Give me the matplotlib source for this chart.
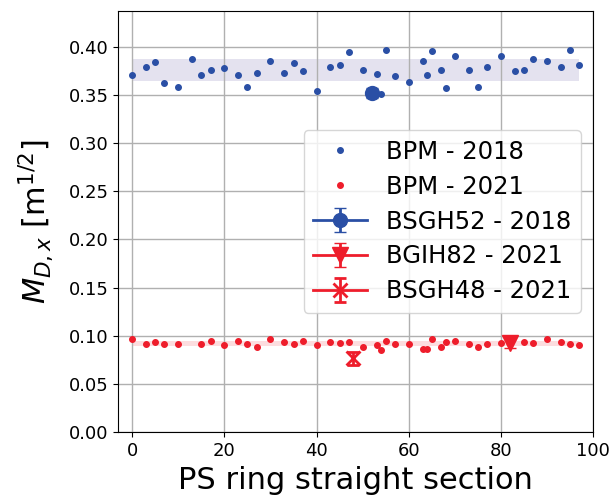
import matplotlib.pyplot as plt
import numpy as np

# BPM measurements, 2018
x_2018 = [0, 3, 5, 7, 10, 13, 15, 17, 20, 23, 25, 27, 30, 33, 35, 37, 40, 43, 45, 47,
          50, 53, 54, 55, 57, 60, 63, 64, 65, 67, 68, 70, 73, 75, 77, 80, 83, 85, 87,
          90, 93, 95, 97]
y_2018 = [0.371, 0.379, 0.384, 0.362, 0.3585, 0.387, 0.371, 0.376, 0.378, 0.371,
          0.3585, 0.373, 0.3855, 0.373, 0.383, 0.3745, 0.3537, 0.379, 0.381, 0.394,
          0.376, 0.372, 0.351, 0.397, 0.370, 0.3634, 0.3855, 0.371, 0.395, 0.376,
          0.357, 0.390, 0.376, 0.3585, 0.379, 0.390, 0.3745, 0.376, 0.387, 0.3855,
          0.379, 0.397, 0.381]

# BPM measurements, 2021
x_2021 = [0, 3, 5, 7, 10, 15, 17, 20, 23, 25, 27, 30, 33, 35, 37, 40, 43, 45, 47, 50,
          53, 54, 55, 57, 60, 63, 64, 65, 67, 68, 70, 73, 75, 77, 80, 85, 87, 90, 93,
          95, 97]
y_2021 = [0.0968, 0.0916, 0.0934, 0.0916, 0.0916, 0.0916, 0.095, 0.0902, 0.095, 0.0916,
          0.0885, 0.0968, 0.0934, 0.0916, 0.095, 0.0902, 0.0934, 0.0923, 0.094, 0.0888,
          0.0906, 0.0854, 0.095, 0.0916, 0.0916, 0.0867, 0.0867, 0.0968, 0.0885, 0.0934,
          0.095, 0.0916, 0.0885, 0.0916, 0.0923, 0.094, 0.0923, 0.0968, 0.0934, 0.0916,
          0.0902]

# profile monitors
bsgh52_x, bsgh52_y, bsgh52_err = [52], [0.352], [0.005]
bgih82_x, bgih82_y, bgih82_err = [82], [0.0927], [0.005]
bsgh48_x, bsgh48_y, bsgh48_err = [48], [0.0768], [0.007]

blue = '#2a4fa5'
red = '#ee1d2b'

fig = plt.figure(figsize=(6.12, 4.98), dpi=100)
ax = fig.add_axes([0.1933, 0.1319, 0.7761, 0.8466])

# mean +/- std bands
for xs, ys, fc in [(x_2018, y_2018, '#4b3f9a'), (x_2021, y_2021, red)]:
    m, s = np.mean(ys), np.std(ys)
    ax.fill_between([min(xs), max(xs)], m - s, m + s, color=fc, alpha=0.15, lw=0)

ax.plot(x_2018, y_2018, '.', color=blue, ms=8, label='BPM - 2018')
ax.plot(x_2021, y_2021, '.', color=red, ms=8, label='BPM - 2021')
ax.errorbar(bsgh52_x, bsgh52_y, yerr=bsgh52_err, fmt='o-', color=blue, ms=10,
            capsize=4, lw=2, label='BSGH52 - 2018')
ax.errorbar(bgih82_x, bgih82_y, yerr=bgih82_err, fmt='v-', color=red, ms=12,
            capsize=4, lw=2, label='BGIH82 - 2021')
ax.errorbar(bsgh48_x, bsgh48_y, yerr=bsgh48_err, fmt='x-', color=red, ms=10, mew=2,
            capsize=4, lw=2, label='BSGH48 - 2021')

ax.set_xlim(-3, 100)
ax.set_ylim(0, 0.4373)
ax.set_xticks(np.arange(0, 101, 20))
ax.set_yticks(np.arange(0, 0.41, 0.05))
ax.tick_params(labelsize=13)
ax.grid(True, color='#b0b0b0', lw=1)
ax.set_xlabel('PS ring straight section', fontsize=22)
ax.set_ylabel(r'$M_{D,x}$ [m$^{1/2}$]', fontsize=22, labelpad=10)
ax.legend(loc='center right', fontsize=17.5, labelspacing=0.45, handlelength=2.2)

plt.savefig('out.png', dpi=100)
